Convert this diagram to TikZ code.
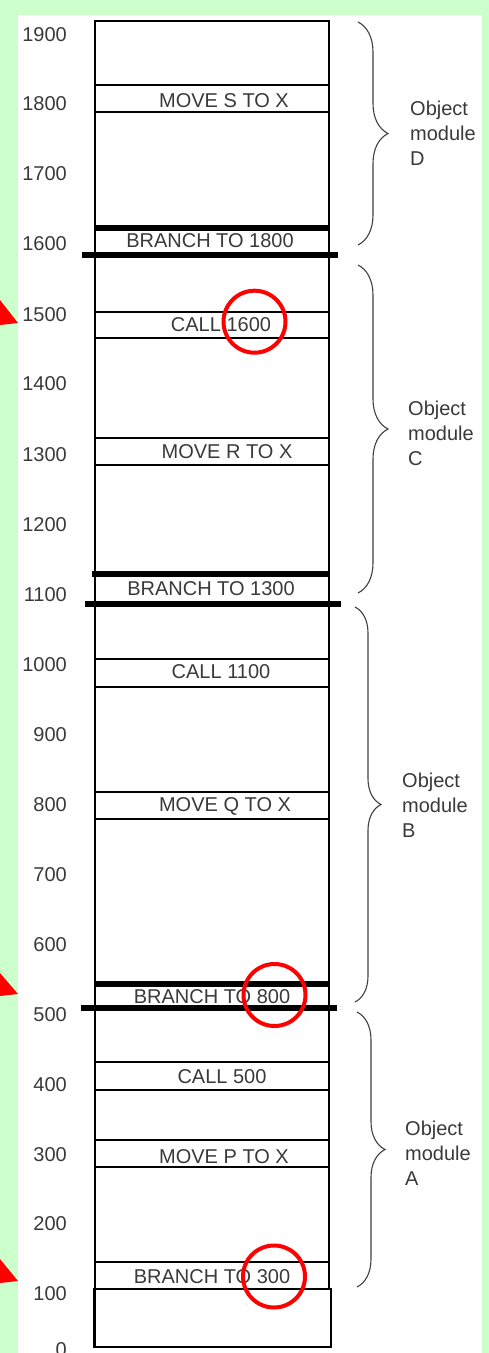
\documentclass[tikz,border=0pt]{standalone}
\usepackage{fontspec}
\setmainfont{Liberation Sans}
\usetikzlibrary{decorations.pathreplacing}
\definecolor{bggreen}{HTML}{CCFFCC}
\definecolor{txtgray}{HTML}{3A3A3A}
\begin{document}
\begin{tikzpicture}[x=1pt,y=-1pt,
  lbl/.style={font=\fontsize{20}{25}\selectfont, text=txtgray, inner sep=0pt},
  axis/.style={lbl, anchor=east},
  thinline/.style={draw=black, line width=1.2pt},
  thickline/.style={draw=black, line width=6pt},
  brc/.style={draw=black!75, line width=1.1pt, decorate, decoration={brace, amplitude=#1}},
  modlbl/.style={lbl, align=left, anchor=west},
  hilite/.style={circle, draw=red, line width=4pt, minimum size=62pt, inner sep=0pt},
  tri/.style={fill=red}]
\clip (0,0) rectangle (489,1353);
\fill[bggreen] (0,0) rectangle (489,1353);
\fill[white] (18,15) rectangle (482,1353);
% red pointers
\fill[tri] (0,300) -- (18,323) -- (0,325) -- cycle;
\fill[tri] (0,973) -- (18,994) -- (0,996) -- cycle;
\fill[tri] (0,1259) -- (18,1281) -- (0,1283) -- cycle;
% column outline
\draw[thinline] (95,1347) -- (95,21) -- (329,21) -- (329,1289);
\draw[thinline] (94,1289) rectangle (331,1347);
\foreach \yy in {85,112,312,338,438,465,659,687,792,819,1062,1090,1140,1167,1262}
  \draw[thinline] (95,\yy) -- (329,\yy);
% thick module boundaries
\draw[thickline] (95,228) -- (329,228);
\draw[thickline] (82,255) -- (338,255);
\draw[thickline] (92,574) -- (329,574);
\draw[thickline] (85,604) -- (341,604);
\draw[thickline] (95,984) -- (329,984);
\draw[thickline] (81,1008) -- (337,1008);
% contents
\node[lbl] (ms) at (224,101) {MOVE S TO X};
\node[lbl] (b1800) at (210,241) {BRANCH TO 1800};
\node[lbl] (c1600) at (221,325) {CALL 1600};
\node[lbl] (mr) at (227,452) {MOVE R TO X};
\node[lbl] (b1300) at (211,589) {BRANCH TO 1300};
\node[lbl] (c1100) at (221,672) {CALL 1100};
\node[lbl] (mq) at (225,806) {MOVE Q TO X};
\node[lbl] (b800) at (212,997) {BRANCH TO 800};
\node[lbl] (c500) at (222,1077) {CALL 500};
\node[lbl] (mp) at (224,1157) {MOVE P TO X};
\node[lbl] (b300) at (212,1277) {BRANCH TO 300};
% axis labels
\node[axis] (a1900) at (67,35) {1900};
\node[axis] (a1800) at (67,104) {1800};
\node[axis] (a1700) at (67,174) {1700};
\node[axis] (a1600) at (67,244) {1600};
\node[axis] (a1500) at (67,315) {1500};
\node[axis] (a1400) at (67,384) {1400};
\node[axis] (a1300) at (67,455) {1300};
\node[axis] (a1200) at (67,525) {1200};
\node[axis] (a1100) at (67,595) {1100};
\node[axis] (a1000) at (67,665) {1000};
\node[axis] (a900) at (67,735) {900};
\node[axis] (a800) at (67,805) {800};
\node[axis] (a700) at (67,875) {700};
\node[axis] (a600) at (67,945) {600};
\node[axis] (a500) at (67,1015) {500};
\node[axis] (a400) at (67,1085) {400};
\node[axis] (a300) at (67,1155) {300};
\node[axis] (a200) at (67,1224) {200};
\node[axis] (a100) at (67,1294) {100};
\node[axis] (a0) at (67,1350) {0};
% braces
\draw[brc=30pt] (358,22) -- (358,245);
\draw[brc=30pt] (358,265) -- (358,593);
\draw[brc=26pt] (355,607) -- (355,1002);
\draw[brc=28pt] (357,1012) -- (357,1287);
\node[modlbl] (md) at (410,133) {Object\\module\\D};
\node[modlbl] (mc) at (408,433) {Object\\module\\C};
\node[modlbl] (mb) at (402,805) {Object\\module\\B};
\node[modlbl] (mA) at (405,1153) {Object\\module\\A};
% highlight circles
\node[hilite] (h1) at (254.5,321.7) {};
\node[hilite] (h2) at (274.5,995) {};
\node[hilite] (h3) at (274,1276.5) {};
\end{tikzpicture}
\end{document}
